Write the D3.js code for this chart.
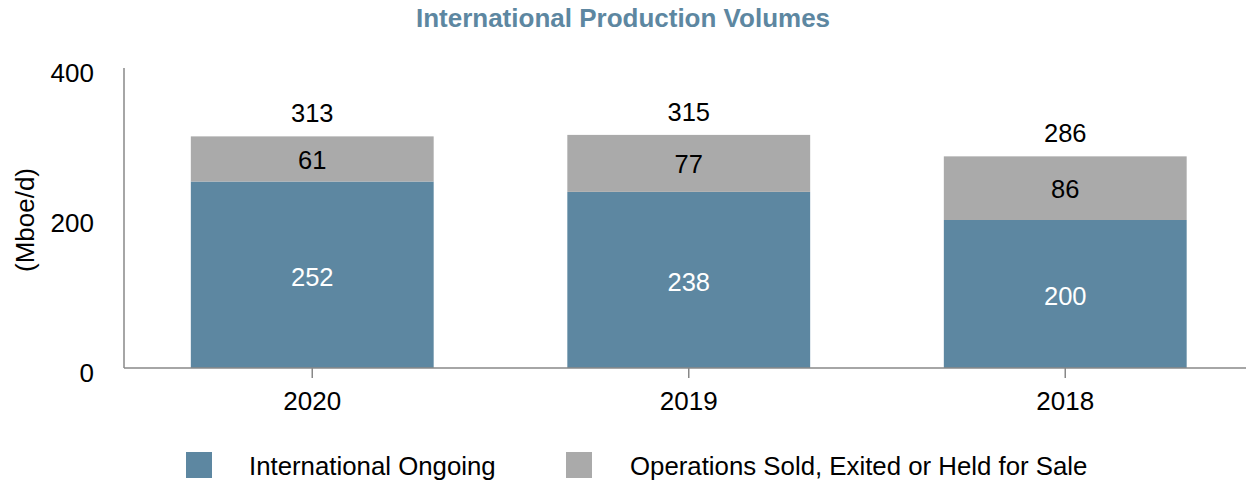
<!DOCTYPE html>
<html><head><meta charset="utf-8">
<script src="https://cdn.jsdelivr.net/npm/d3@7"></script>
<style>body{margin:0;background:#fff}svg{display:block;font-family:"Liberation Sans",Arial,sans-serif}</style>
</head><body><svg id="c" width="1246" height="483"></svg>
<script>
const categories = ["2020", "2019", "2018"];
const ongoing = [252, 238, 200];
const sold = [61, 77, 86];
const totals = [313, 315, 286];
const yTicks = [0, 200, 400];
const seriesNames = ["International Ongoing", "Operations Sold, Exited or Held for Sale"];
const colors = ["#5d87a1", "#aaaaaa"];

const svg = d3.select("#c");
const x = d3.scaleBand().domain(categories).range([124, 1253.5]).paddingInner(0.355).paddingOuter(0.1775);
const y = d3.scaleLinear().domain([0, 400]).range([368, 72]);

svg.append("text").attr("x", 623).attr("y", 27).attr("text-anchor", "middle")
  .attr("font-size", 26).attr("font-weight", "bold").attr("fill", "#5d87a1")
  .text("International Production Volumes");

// bars
const g = svg.append("g");
categories.forEach((c, i) => {
  g.append("rect").attr("x", x(c)).attr("width", x.bandwidth())
    .attr("y", y(ongoing[i])).attr("height", y(0) - y(ongoing[i])).attr("fill", colors[0]);
  g.append("rect").attr("x", x(c)).attr("width", x.bandwidth())
    .attr("y", y(ongoing[i] + sold[i])).attr("height", y(ongoing[i]) - y(ongoing[i] + sold[i])).attr("fill", colors[1]);
  const cx = x(c) + x.bandwidth() / 2;
  g.append("text").attr("x", cx).attr("y", (y(0) + y(ongoing[i])) / 2 + 2).attr("dy", "0.35em")
    .attr("text-anchor", "middle").attr("font-size", 25.5).attr("fill", "#fff").text(ongoing[i]);
  g.append("text").attr("x", cx).attr("y", (y(ongoing[i]) + y(ongoing[i] + sold[i])) / 2 + 1).attr("dy", "0.35em")
    .attr("text-anchor", "middle").attr("font-size", 25.5).attr("fill", "#000").text(sold[i]);
  g.append("text").attr("x", cx).attr("y", y(totals[i]) - 23).attr("dy", "0.35em")
    .attr("text-anchor", "middle").attr("font-size", 25.5).attr("fill", "#000").text(totals[i]);
});

// y axis
svg.append("line").attr("x1", 124).attr("x2", 124).attr("y1", 68).attr("y2", 368).attr("stroke", "#888").attr("stroke-width", 1.5);
yTicks.forEach((t) => {
  svg.append("text").attr("x", 94).attr("y", (y(t) + (t === 0 ? 5 : t === 400 ? 1 : 3))).attr("dy", "0.35em")
    .attr("text-anchor", "end").attr("font-size", 26).attr("fill", "#000").text(t);
});
svg.append("text").attr("transform", "translate(34,220) rotate(-90)").attr("text-anchor", "middle")
  .attr("font-size", 26).attr("fill", "#000").text("(Mboe/d)");

// x axis
const xa = svg.append("g").attr("transform", "translate(0,368)")
  .call(d3.axisBottom(x).tickSize(10).tickSizeOuter(0));
xa.select(".domain").attr("stroke", "#888").attr("stroke-width", 1.5).attr("d", "M124,0H1246");
xa.selectAll(".tick line").attr("stroke", "#888").attr("stroke-width", 1.5);
xa.selectAll(".tick text").attr("font-size", 26).attr("fill", "#000").attr("y", 35).attr("dy", "0")
  .attr("font-family", '"Liberation Sans",Arial,sans-serif').attr("dominant-baseline", "middle");

// legend
const legX = [186, 566];
const txtX = [249, 630];
seriesNames.forEach((n, i) => {
  svg.append("rect").attr("x", legX[i]).attr("y", 452).attr("width", 26).attr("height", 26).attr("fill", colors[i]);
  svg.append("text").attr("x", txtX[i]).attr("y", 466).attr("dy", "0.35em").attr("font-size", 25.8).attr("fill", "#000").text(n);
});
</script></body></html>
